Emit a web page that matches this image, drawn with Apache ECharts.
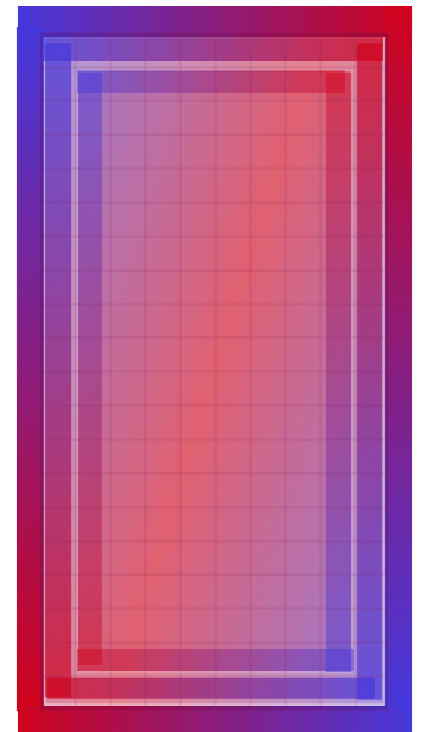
<!DOCTYPE html>
<html><head><meta charset="utf-8">
<script src="https://cdn.jsdelivr.net/npm/echarts@6/dist/echarts.min.js"></script>
<style>html,body{margin:0;padding:0;background:#fff}#c{width:427px;height:732px}</style>
</head><body><div id="c"></div>
<script>
// Grid: 10 columns x 20 rows (value axes). Rects given as [x0, y0, x1, y1] in axis units.
const xTicks = [0,1,2,3,4,5,6,7,8,9,10];
const yTicks = [0,1,2,3,4,5,6,7,8,9,10,11,12,13,14,15,16,17,18,19,20];
// outer frame: top, left, bottom, right
const outerFrame = [
  [-0.63, -0.80, 10.63, 0.12],
  [-0.66, -0.18, 0.11, 20.03],
  [-0.63, 19.88, 10.63, 20.85],
  [9.86, -0.80, 10.63, 19.88]
];
// nested panels
const panels = [
  [0.00, 0.00, 9.94, 20.00],
  [0.11, 0.12, 9.86, 19.85],
  [1.03, 1.06, 8.94, 18.91]
];
// first ring of strips: top, left, bottom, right
const level1Strips = [
  [0.11, 0.12, 9.80, 0.83],
  [0.14, 0.30, 0.89, 19.62],
  [0.20, 19.05, 9.57, 19.67],
  [9.06, 0.30, 9.77, 19.70]
];
// second ring of strips: top, left, bottom, right
const level2Strips = [
  [1.06, 1.09, 8.71, 1.77],
  [1.09, 1.18, 1.77, 18.67],
  [1.06, 18.20, 8.97, 18.85],
  [8.17, 1.18, 8.89, 18.88]
];

const BLUE = '#4538dc', RED = '#d0021b';

function rectOf(api) {
  const p0 = api.coord([api.value(0), api.value(1)]);
  const p1 = api.coord([api.value(2), api.value(3)]);
  return {
    x: Math.min(p0[0], p1[0]), y: Math.min(p0[1], p1[1]),
    width: Math.abs(p1[0] - p0[0]), height: Math.abs(p1[1] - p0[1])
  };
}
function sideGradient(i) {
  const horiz = (i % 2 === 0);
  const c0 = i < 2 ? BLUE : RED, c1 = i < 2 ? RED : BLUE;
  return new echarts.graphic.LinearGradient(0, 0, horiz ? 1 : 0, horiz ? 0 : 1,
    [{offset: 0, color: c0}, {offset: 1, color: c1}]);
}
function stripSeries(data, opacity) {
  return {
    type: 'custom', data: data, silent: true,
    renderItem: function (params, api) {
      return {type: 'rect', shape: rectOf(api),
        style: {fill: sideGradient(params.dataIndex), opacity: opacity}};
    }
  };
}
const panelOpacity = [0.30, 0.28, 0.26];
const gridLine = {show: true, lineStyle: {color: 'rgba(140,40,90,0.13)', width: 2.5}};

const chart = echarts.init(document.getElementById('c'), null, {renderer: 'canvas'});
chart.setOption({
  animation: false,
  backgroundColor: '#ffffff',
  grid: {left: 40, right: 37, top: 33, bottom: 22},
  xAxis: {
    type: 'value', min: 0, max: 10, interval: 1, z: 10,
    axisLine: {show: false}, axisTick: {show: false}, axisLabel: {show: false},
    splitLine: gridLine
  },
  yAxis: {
    type: 'value', min: 0, max: 20, interval: 1, inverse: true, z: 10,
    axisLine: {show: false}, axisTick: {show: false}, axisLabel: {show: false},
    splitLine: gridLine
  },
  series: [
    stripSeries(outerFrame, 1),
    {
      type: 'custom', data: panels, silent: true,
      renderItem: function (params, api) {
        const r = rectOf(api);
        const pA = api.coord([-3.14, 7.42]), pB = api.coord([13.11, 12.61]);
        const grad = new echarts.graphic.LinearGradient(pA[0], pA[1], pB[0], pB[1],
          [{offset: 0, color: BLUE}, {offset: 0.5, color: RED}, {offset: 1, color: BLUE}], true);
        const i = params.dataIndex;
        const border = i === 0
          ? {type: 'rect', shape: {x: r.x + 2, y: r.y + 2, width: r.width - 4, height: r.height - 4},
             style: {fill: null, stroke: 'rgba(40,0,80,0.17)', lineWidth: 4}}
          : {type: 'rect', shape: {x: r.x + 1, y: r.y + 1, width: r.width - 2, height: r.height - 2},
             style: {fill: null, stroke: 'rgba(255,255,255,0.3)', lineWidth: 2}};
        return {type: 'group', children: [
          {type: 'rect', shape: r, style: {fill: grad, opacity: panelOpacity[i]}},
          border
        ]};
      }
    },
    stripSeries(level1Strips, 0.7),
    stripSeries(level2Strips, 0.45)
  ]
});
</script></body></html>
